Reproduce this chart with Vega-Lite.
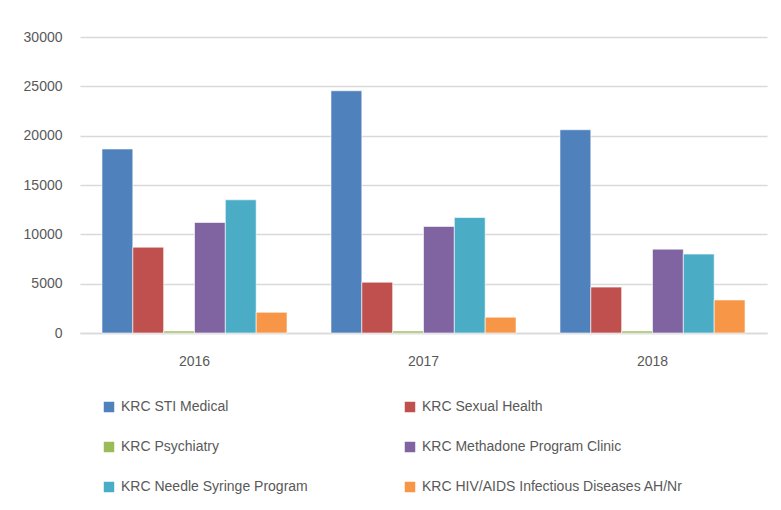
{
  "$schema": "https://vega.github.io/schema/vega-lite/v6.json",
  "autosize": {"type": "none"},
  "padding": {"left": 80, "top": 37, "right": 14, "bottom": 177},
  "width": 687,
  "height": 296,
  "background": "white",
  "config": {
    "font": "Liberation Sans",
    "view": {"stroke": null},
    "axis": {"labelFont": "Liberation Sans", "labelColor": "#595959", "labelFontSize": 14}
  },
  "data": {
    "values": [
      {"year": "2016", "service": "KRC STI Medical", "value": 18650},
      {"year": "2016", "service": "KRC Sexual Health", "value": 8700},
      {"year": "2016", "service": "KRC Psychiatry", "value": 200},
      {"year": "2016", "service": "KRC Methadone Program Clinic", "value": 11200},
      {"year": "2016", "service": "KRC Needle Syringe Program", "value": 13500},
      {"year": "2016", "service": "KRC HIV/AIDS Infectious Diseases AH/Nr", "value": 2100},
      {"year": "2017", "service": "KRC STI Medical", "value": 24550},
      {"year": "2017", "service": "KRC Sexual Health", "value": 5150},
      {"year": "2017", "service": "KRC Psychiatry", "value": 200},
      {"year": "2017", "service": "KRC Methadone Program Clinic", "value": 10800},
      {"year": "2017", "service": "KRC Needle Syringe Program", "value": 11700},
      {"year": "2017", "service": "KRC HIV/AIDS Infectious Diseases AH/Nr", "value": 1600},
      {"year": "2018", "service": "KRC STI Medical", "value": 20600},
      {"year": "2018", "service": "KRC Sexual Health", "value": 4650},
      {"year": "2018", "service": "KRC Psychiatry", "value": 200},
      {"year": "2018", "service": "KRC Methadone Program Clinic", "value": 8500},
      {"year": "2018", "service": "KRC Needle Syringe Program", "value": 8000},
      {"year": "2018", "service": "KRC HIV/AIDS Infectious Diseases AH/Nr", "value": 3350}
    ]
  },
  "mark": {"type": "bar", "stroke": "white", "strokeWidth": 0.6},
  "encoding": {
    "x": {
      "field": "year", "type": "nominal",
      "scale": {"paddingInner": 0.192, "paddingOuter": 0.096},
      "axis": {"title": null, "labelAngle": 0, "ticks": false, "domainColor": "#d9d9d9", "domainWidth": 1.5, "labelPadding": 21}
    },
    "xOffset": {
      "field": "service", "type": "nominal",
      "sort": ["KRC STI Medical", "KRC Sexual Health", "KRC Psychiatry", "KRC Methadone Program Clinic", "KRC Needle Syringe Program", "KRC HIV/AIDS Infectious Diseases AH/Nr"],
      "scale": {"paddingInner": 0, "paddingOuter": 0}
    },
    "y": {
      "field": "value", "type": "quantitative",
      "scale": {"domain": [0, 30000], "nice": false},
      "axis": {"title": null, "values": [0, 5000, 10000, 15000, 20000, 25000, 30000], "labelOverlap": false, "format": "d", "ticks": false, "domain": false, "gridColor": "#d9d9d9", "gridWidth": 1.5, "labelPadding": 18}
    },
    "color": {
      "field": "service", "type": "nominal",
      "scale": {
        "domain": ["KRC STI Medical", "KRC Sexual Health", "KRC Psychiatry", "KRC Methadone Program Clinic", "KRC Needle Syringe Program", "KRC HIV/AIDS Infectious Diseases AH/Nr"],
        "range": ["#4F81BD", "#C0504D", "#9BBB59", "#8064A2", "#4BACC6", "#F79646"]
      },
      "legend": {
        "title": null,
        "orient": "none",
        "legendX": 22,
        "legendY": 363,
        "direction": "horizontal",
        "columns": 2,
        "columnPadding": 95,
        "rowPadding": 26,
        "symbolType": "square",
        "symbolSize": 110,
        "symbolStrokeWidth": 0,
        "labelFont": "Liberation Sans",
        "labelFontSize": 14,
        "labelColor": "#595959",
        "labelOffset": 5,
        "labelLimit": 400
      }
    }
  }
}
